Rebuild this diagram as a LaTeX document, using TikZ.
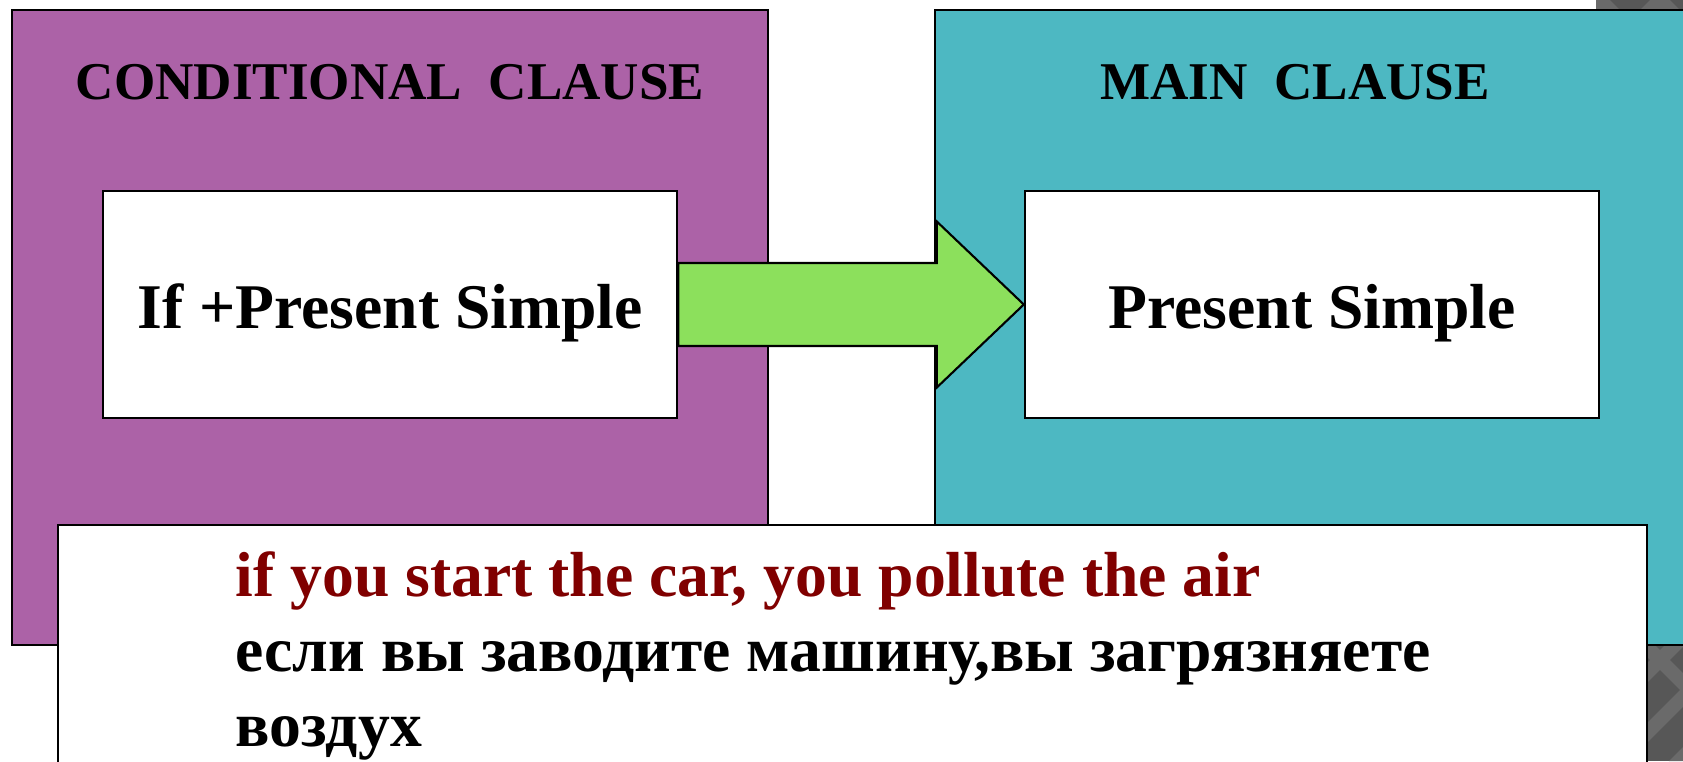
\documentclass[tikz,border=0pt]{standalone}
\usepackage{fontspec}
\setmainfont{Liberation Serif}
\usetikzlibrary{calc,positioning}

\definecolor{condpurple}{HTML}{AC62A7}
\definecolor{mainteal}{HTML}{4DB8C2}
\definecolor{arrowgreen}{HTML}{8CE05C}
\definecolor{exred}{HTML}{800000}
\definecolor{slidegrey}{HTML}{575757}
\definecolor{slidediamond}{HTML}{6A6A6A}

\tikzset{
  clausebox/.style={draw=black,line width=0.6pt,minimum width=7.56cm,minimum height=6.35cm},
  tensebox/.style={draw=black,fill=white,line width=0.6pt,minimum width=5.74cm,minimum height=2.27cm,
    text height=0.47cm,text depth=0pt,font=\fontsize{18.1}{21.7}\selectfont\bfseries},
  clausetitle/.style={inner sep=0pt,font=\fontsize{15.1}{18}\selectfont\bfseries},
  exline/.style={anchor=base west,inner sep=0pt,font=\fontsize{18.1}{21.7}\selectfont\bfseries}
}

\begin{document}
\begin{tikzpicture}[x=0.01cm,y=-0.01cm]
        \useasboundingbox (0,0) rectangle (1683,761);
        \clip (0,0) rectangle (1683,761);

        % 1. Slide background in the corners
        \begin{scope}
          \clip (1596,0) rectangle (1683,12) (1645,640) rectangle (1683,761);
          \fill[slidegrey] (1500,0) rectangle (1683,761);
          \foreach \k in {0,...,24} {
            \draw[slidediamond,line width=4pt] (1000+\k*60,0) -- +(800,800);
            \draw[slidediamond,line width=4pt] (1000+\k*60,0) -- +(-800,800);
          }
        \end{scope}

        % 2. Clause panels and their titles
        \node (cond) at (390,327.5) [clausebox,fill=condpurple] {};
        \node (main) at (1313,327.5) [clausebox,fill=mainteal] {};
        \node (condtitle) at (390,82) [clausetitle] {CONDITIONAL\ \ CLAUSE};
        \node (maintitle) at (1295,82) [clausetitle] {MAIN\ \ CLAUSE};

        % 3. Tense boxes
        \node (ifbox) at (390,304.5) [tensebox] {If +Present Simple};
        \node (psbox) at (1312,304.5) [tensebox] {Present Simple};

        % 4. Block arrow from if-clause to main clause
        \draw[fill=arrowgreen,line width=0.6pt,line join=miter]
          ($(ifbox.east)+(0,-41.5)$) -- ($(psbox.west)+(-87,-41.5)$) -- ($(psbox.west)+(-87,-83)$)
          -- (psbox.west)
          -- ($(psbox.west)+(-87,83)$) -- ($(psbox.west)+(-87,41.5)$) -- ($(ifbox.east)+(0,41.5)$) -- cycle;

        % 5. Example box
        \node (exbox) at (57,524) [anchor=north west,draw=black,fill=white,line width=0.6pt,
          minimum width=15.88cm,minimum height=3cm] {};
        \node (ex1) at (235,596) [exline,text=exred] {if you start the car, you pollute the air};
        \node (ex2) at ($(ex1.base west)+(0,75)$) [exline] {если вы заводите машину,вы загрязняете};
        \node (ex3) at ($(ex2.base west)+(0,75)$) [exline] {воздух};

    \end{tikzpicture}
\end{document}
